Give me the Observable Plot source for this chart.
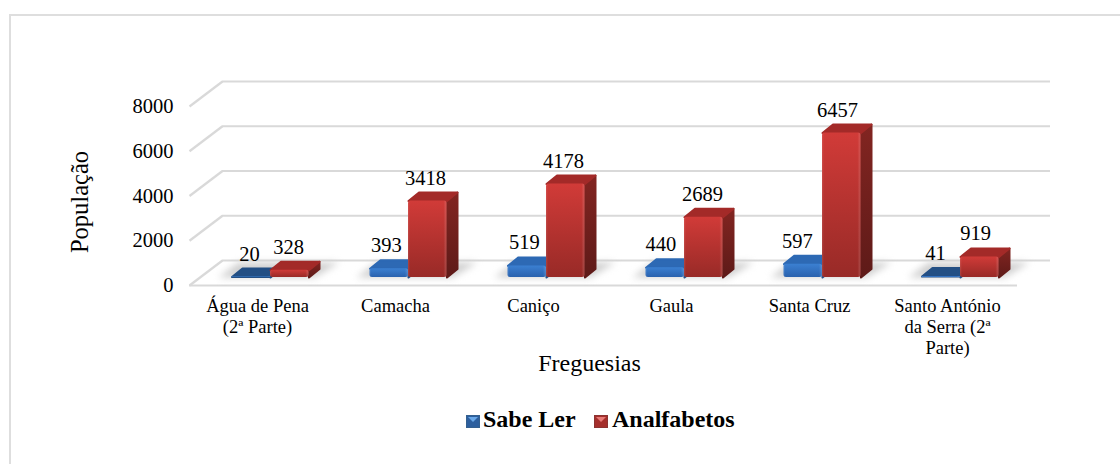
<!DOCTYPE html>
<html lang="pt">
<head>
<meta charset="utf-8">
<script src="https://cdn.jsdelivr.net/npm/d3@7"></script>
<script src="https://cdn.jsdelivr.net/npm/@observablehq/plot@0.6"></script>
<style>
  html, body { margin: 0; padding: 0; background: #fff; }
  #wrap { position: relative; width: 1120px; height: 464px; overflow: hidden; font-family: "Liberation Serif", serif; color: #000; }
  #wrap svg.chart { display: block; }
  #border { position: absolute; left: 9px; top: 14px; width: 1200px; height: 600px; border-left: 2.5px solid #dedede; border-top: 2.5px solid #dedede; pointer-events: none; }
  .key { position: absolute; top: 405px; font: bold 24px/28px "Liberation Serif", serif; white-space: nowrap; }
  .sw { position: absolute; top: 415px; }
</style>
</head>
<body>
<div id="wrap"><div id="border"></div></div>
<script>
const freguesias = ["Água de Pena\n(2ª Parte)", "Camacha", "Caniço", "Gaula", "Santa Cruz", "Santo António\nda Serra (2ª\nParte)"];
const sabeLer = [20, 393, 519, 440, 597, 41];
const analfabetos = [328, 3418, 4178, 2689, 6457, 919];
const yTicks = [0, 2000, 4000, 6000, 8000];

// Pseudo-3D geometry, expressed in pixels and converted to data units
const W = 1120, H = 464, L = 189, R = 1017, T = 106, B = 285;
const pxX = (R - L) / freguesias.length;
const pxY = 8000 / (B - T);
const ux = p => p / pxX, uy = p => p * pxY;
const barW = ux(38.5), groupShift = ux(12), dX = ux(10.5), dY = uy(8.5);
const floorDx = 33, floorDy = -25, liftDy = -8;

const bars = [];
freguesias.forEach((f, i) => {
  const c = i + 0.5 + groupShift;
  bars.push({i, s: 0, v: sabeLer[i], x1: c - barW, x2: c});
  bars.push({i, s: 1, v: analfabetos[i], x1: c, x2: c + barW});
});
const poly = (list, fn) => list.flatMap(b => { const pts = fn(b); return [...pts, pts[0]].map(([x, y]) => ({x, y, id: b.i + "-" + b.s})); });
const sideOf = b => [[b.x2, 0], [b.x2 + dX, dY], [b.x2 + dX, b.v + dY], [b.x2, b.v]];
const topOf = b => [[b.x1, b.v], [b.x2, b.v], [b.x2 + dX, b.v + dY], [b.x1 + dX, b.v + dY]];
const blue = bars.filter(b => b.s === 0), red = bars.filter(b => b.s === 1);

const shadows = poly(freguesias.map((f, i) => ({i, s: "sh"})), b => {
  const c = b.i + 0.5 + groupShift;
  return [[c - ux(52), 0], [c + ux(44), 0], [c + ux(69), uy(15)], [c - ux(32), uy(15)]];
});

const lineKw = {x: "x", y: "y", z: "id", dy: liftDy, strokeLinejoin: "round", strokeWidth: 2};
const block = (list, sideFill, topFill, frontFill) => [
  Plot.line(poly(list, sideOf), {...lineKw, fill: sideFill, stroke: sideFill}),
  ...list.map(b => Plot.line(poly([b], topOf), {...lineKw, fill: topFill(b), stroke: topFill(b)})),
  Plot.rect(list, {x1: "x1", x2: "x2", y1: 0, y2: "v", dy: liftDy, fill: frontFill, r: 2.5}),
  Plot.rect(list, {x1: "x1", x2: "x2", y1: 0, y2: "v", dy: liftDy, fill: "url(#bevel)", r: 2.5})
];

const labelNudge = {"0-0": 1, "1-1": -1, "2-1": -1, "3-0": -1.5, "4-0": -3, "4-1": -3, "5-0": -3, "5-1": -3};
const labels = bars.map(b => ({
  v: b.v,
  x: (b.x1 + b.x2) / 2 + (b.s ? ux(-1.2) : ux(-2.8)) + ux(labelNudge[b.i + "-" + b.s] || 0)
}));

const chart = Plot.plot({
  width: W, height: H,
  marginLeft: L, marginRight: W - R, marginTop: T, marginBottom: H - B,
  x: {domain: [0, freguesias.length], axis: null},
  y: {domain: [0, 8000], axis: null},
  style: {fontFamily: "'Liberation Serif', serif", background: "transparent", overflow: "visible"},
  className: "chart",
  marks: [
    () => d3.create("svg:defs").html(`
      <linearGradient id="redFront" x1="0" y1="0" x2="0" y2="1"><stop offset="0" stop-color="#d13b38"/><stop offset="1" stop-color="#982a27"/></linearGradient>
      <linearGradient id="blueFront" x1="0" y1="0" x2="0" y2="1"><stop offset="0" stop-color="#3b80d2"/><stop offset="1" stop-color="#2a62ae"/></linearGradient>
      <linearGradient id="redSide" x1="0" y1="0" x2="0" y2="1"><stop offset="0" stop-color="#822521"/><stop offset="1" stop-color="#5e1a18"/></linearGradient>
      <linearGradient id="bevel" x1="0" y1="0" x2="1" y2="0"><stop offset="0" stop-color="#fff" stop-opacity=".12"/><stop offset=".05" stop-color="#fff" stop-opacity="0"/><stop offset=".92" stop-color="#fff" stop-opacity="0"/><stop offset="1" stop-color="#fff" stop-opacity=".16"/></linearGradient>
    `).node(),
    // back wall grid and left wall
    Plot.ruleY(yTicks, {x1: 0, x2: freguesias.length, dx: floorDx, dy: floorDy, stroke: "#d9d9d9", strokeWidth: 2.2}),
    Plot.link(yTicks, {x1: 0, y1: d => d, x2: ux(floorDx), y2: d => d + uy(-floorDy), stroke: "#d9d9d9", strokeWidth: 2.2}),
    // floor front edge and shadows
    Plot.ruleY([0], {x1: 0, x2: freguesias.length, stroke: "#d9d9d9", strokeWidth: 2.2}),
    Plot.line(shadows, {x: "x", y: "y", z: "id", dy: liftDy, fill: "#d0d0d0", stroke: "none", imageFilter: "blur(3.5px)"}),
    // bars
    ...block(blue, "#234f87", b => b.v < 100 ? "#234f84" : "#2d69b4", "url(#blueFront)"),
    ...block(red, "url(#redSide)", () => "#a32a28", "url(#redFront)"),
    // value labels
    Plot.text(labels, {x: "x", y: "v", text: d => String(d.v), dy: liftDy - 23, fontSize: 20.5, fill: "#000"}),
    // axes and titles
    Plot.axisY({ticks: yTicks, tickSize: 0, tickPadding: 16, fontSize: 20.5, label: null, tickFormat: d => String(d), fill: "#000", anchor: "left"}),
    Plot.text(freguesias, {x: (d, i) => i + 0.5, frameAnchor: "bottom", lineAnchor: "top", dx: -1, dy: 12, text: d => d, fontSize: 18.5, lineHeight: 1.135, fill: "#000"}),
    Plot.text(["População"], {frameAnchor: "left", dx: 80 - L, dy: 6, rotate: -90, fontSize: 24.5, fill: "#000", textAnchor: "middle", lineAnchor: "middle"}),
    Plot.text(["Freguesias"], {frameAnchor: "bottom", dx: 589 - (L + R) / 2, dy: 85, fontSize: 24, fill: "#000"})
  ]
});
const wrap = document.getElementById("wrap");
wrap.appendChild(chart);

function swatch(left, c1, c2, c3) {
  const s = d3.create("svg").attr("class", "sw").attr("width", 14).attr("height", 13).style("left", left + "px");
  s.append("rect").attr("width", 14).attr("height", 13).attr("fill", c2);
  s.append("rect").attr("x", 1).attr("y", 1).attr("width", 12).attr("height", 11).attr("fill", c3);
  s.append("path").attr("d", "M2 2H12L7 7Z").attr("fill", c1);
  wrap.appendChild(s.node());
}
swatch(466, "#6aa8e8", "#34608f", "#2d5f9e");
swatch(594, "#e87a76", "#8c3331", "#a52f2c");
[["Sabe Ler", 483], ["Analfabetos", 612]].forEach(([t, x]) => {
  const k = document.createElement("div");
  k.className = "key"; k.textContent = t; k.style.left = x + "px";
  wrap.appendChild(k);
});
</script>
</body>
</html>
